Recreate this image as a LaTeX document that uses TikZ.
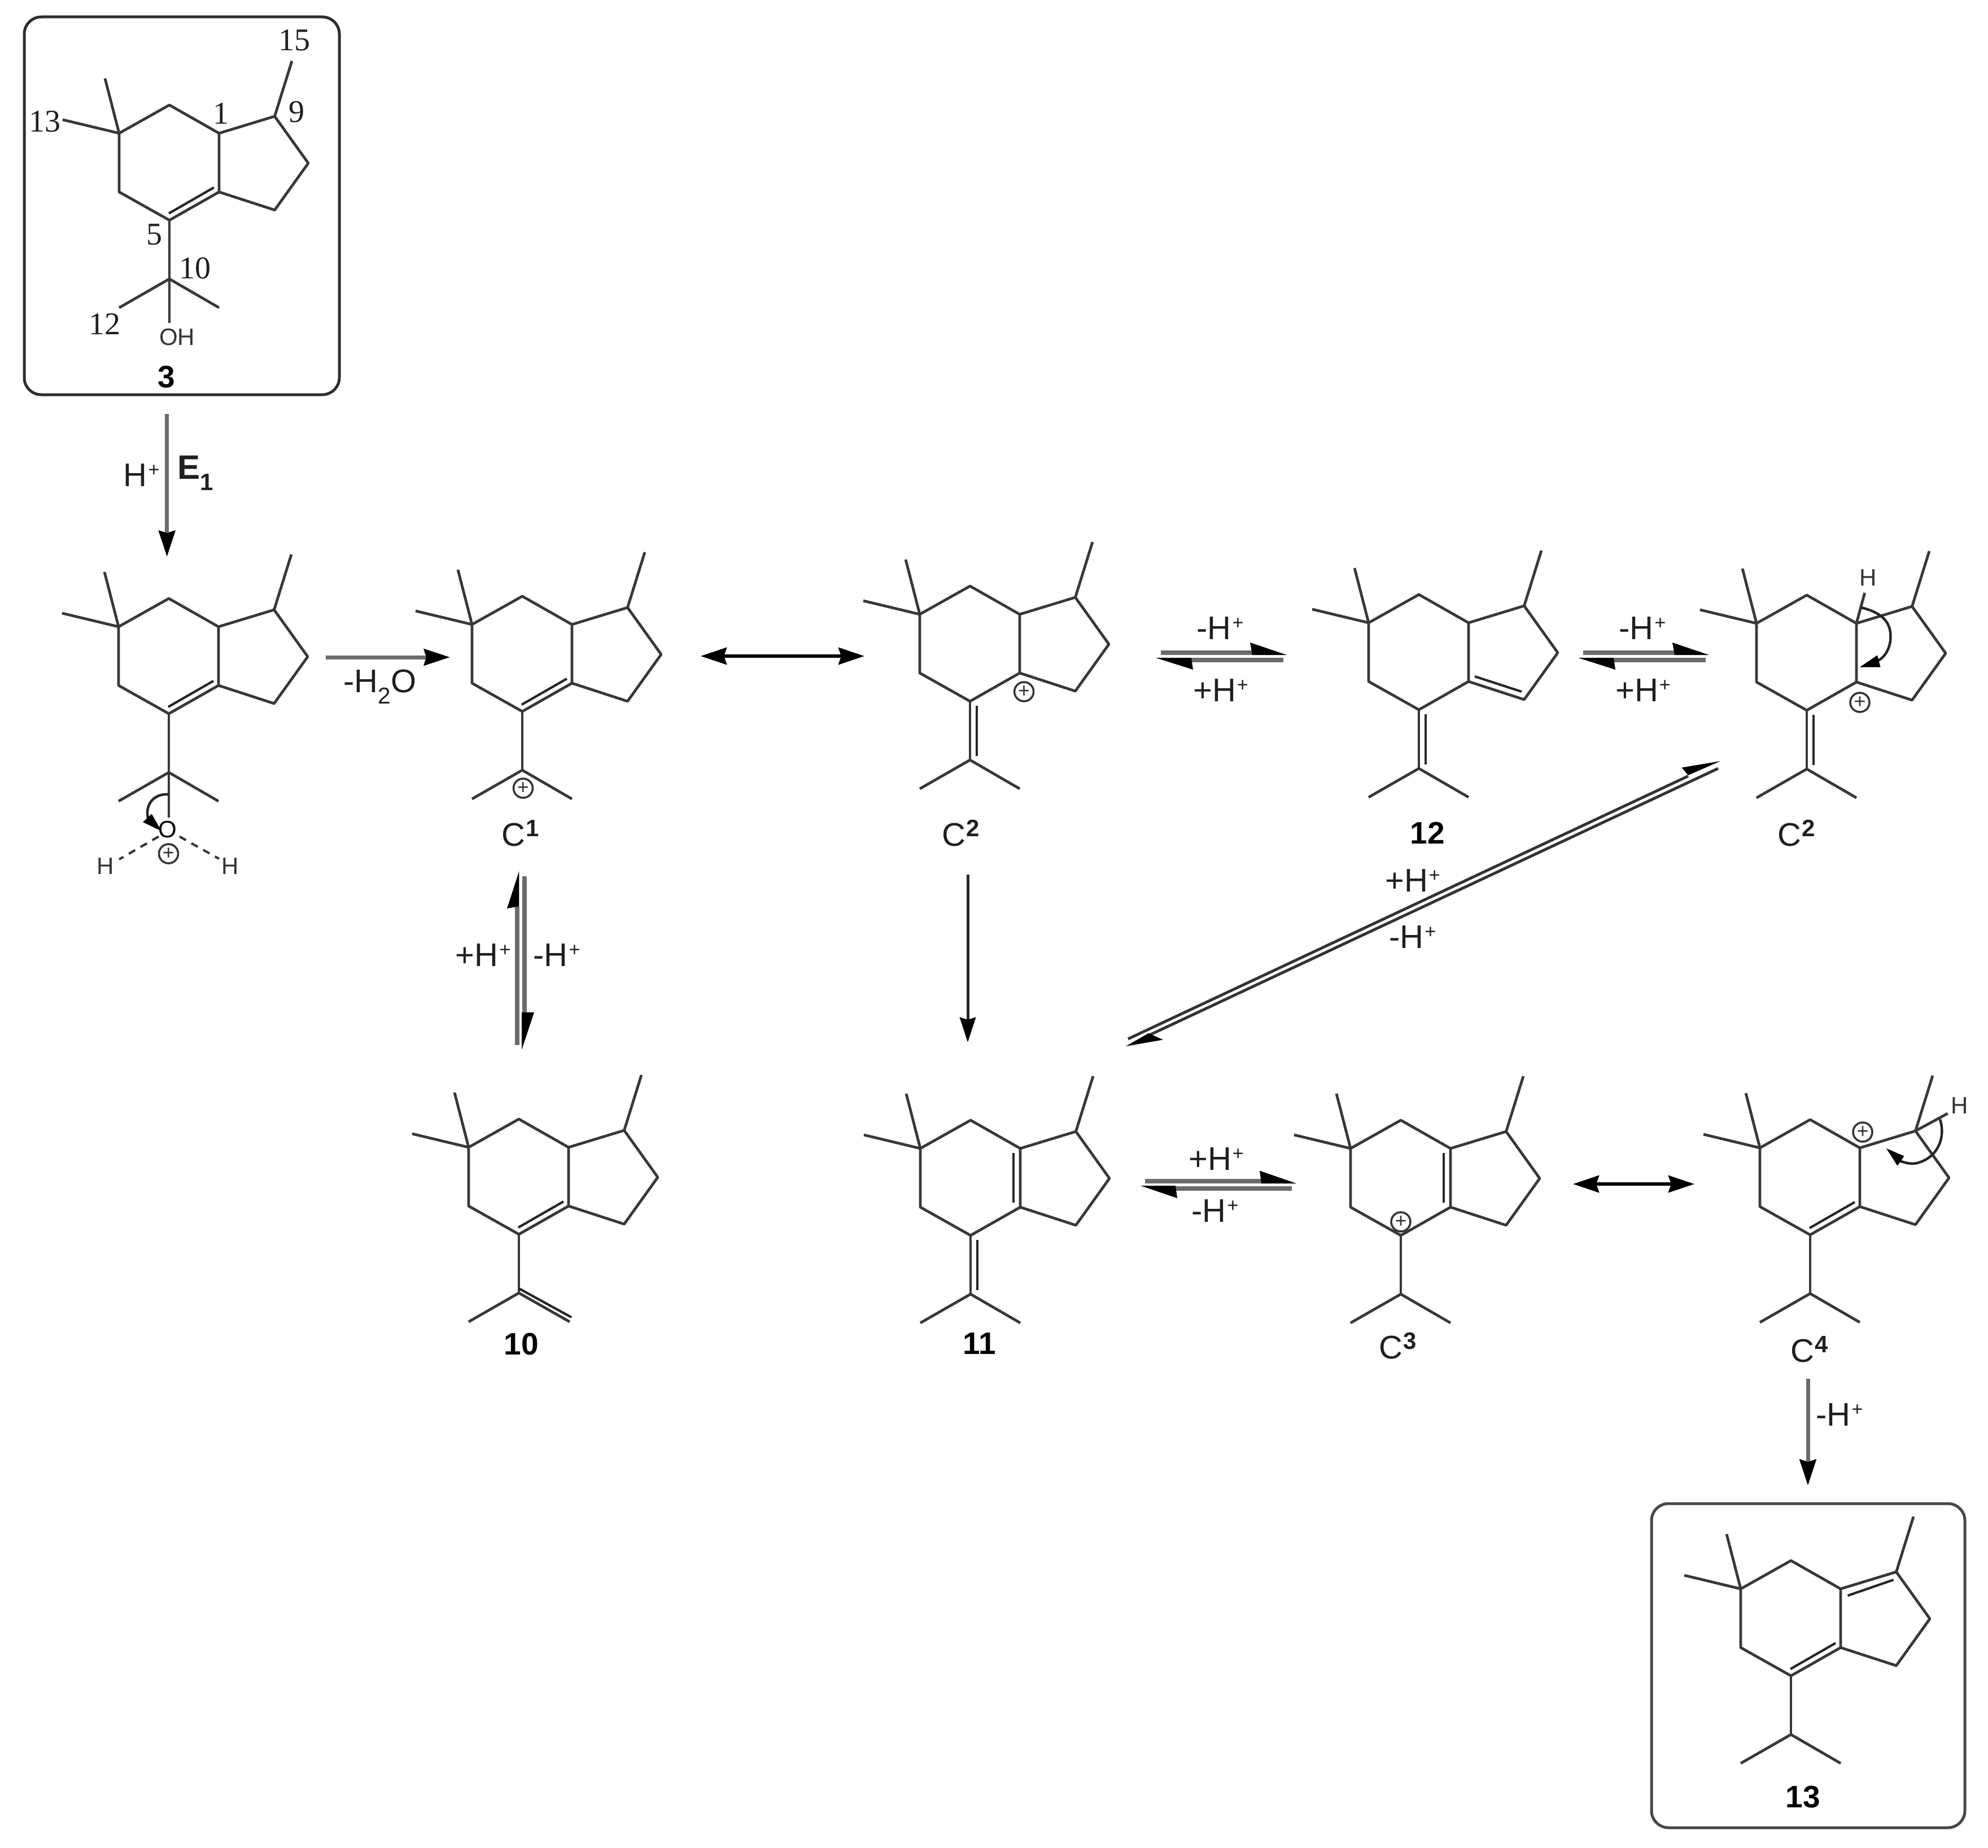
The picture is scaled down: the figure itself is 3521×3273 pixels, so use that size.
\documentclass[tikz,border=0pt]{standalone}
\usepackage{fontspec}
\setmainfont{Liberation Sans}
\newfontfamily\numfont{Liberation Serif}
\usetikzlibrary{arrows.meta,calc}
\newcommand{\fs}[1]{\fontsize{#1}{#1}\selectfont}
\newcommand{\Hp}{H\kern2pt\raisebox{18pt}{\fs{34}+}}
\newcommand{\Csup}[1]{C\kern1pt\raisebox{17pt}{\bfseries\fs{42}#1}}
\tikzset{
  bond/.style={line width=4.8pt,draw=black!78,line join=round},
  thin bond/.style={line width=4.2pt,draw=black!85},
  dashbond/.style={line width=4pt,draw=black!80,dash pattern=on 13pt off 11pt},
  frame/.style={line width=5pt,draw=black!72,rounded corners=30pt},
  rxn/.style={line width=7pt,draw=black!58,-{Stealth[length=46pt,width=29pt,inset=4pt,color=black]}},
  rxndark/.style={line width=5pt,draw=black!85,-{Stealth[length=44pt,width=28pt,inset=4pt,color=black]}},
  both/.style={line width=6pt,draw=black,{Stealth[length=46pt,width=30pt,inset=5pt]}-{Stealth[length=46pt,width=30pt,inset=5pt]}},
  eqline/.style={line width=8pt,draw=black!58},
  diagline/.style={line width=5pt,draw=black!80},
  head/.style={fill=black},
  curved/.style={line width=4.5pt,draw=black!85},
  txt/.style={inner sep=0pt,text=black!88,font=\fs{58}},
  num/.style={inner sep=0pt,text=black!88,font=\numfont\fs{56}},
  atom/.style={inner sep=0pt,text=black!80,font=\fs{42}},
  cmp/.style={inner sep=0pt,text=black,font=\bfseries\fs{55}},
  cat/.style={circle,draw=black!80,line width=3.5pt,minimum size=34pt,inner sep=0pt,font=\fs{36},text=black!80},
}
% ring skeleton: #1 prefix, #2 x, #3 y of the ring carbon C5
\newcommand{\skel}[3]{%
  \begin{scope}[shift={(#2,#3)}]
    \coordinate (#1p) at (0,0);
    \coordinate (#1g) at (-89,-154);
    \coordinate (#1t) at (0,-204);
    \coordinate (#1a) at (88,-154);
    \coordinate (#1b) at (88,-50);
    \coordinate (#1h) at (-89,-50);
    \coordinate (#1n) at (186.5,-184);
    \coordinate (#1r) at (246,-101);
    \coordinate (#1q) at (186.5,-18);
    \coordinate (#1m) at (217,-282);
    \coordinate (#1u) at (-114,-251);
    \coordinate (#1v) at (-189,-178);
    \coordinate (#1s) at (0,104);
    \coordinate (#1l) at (-89,155);
    \coordinate (#1k) at (88,155);
    % inner lines of the double bonds
    \coordinate (#1ri1) at (-1,-12);
    \coordinate (#1ri2) at (79,-58);
    \coordinate (#1xi1) at (12,8);
    \coordinate (#1xi2) at (12,97);
    \coordinate (#1fi1) at (76,-146);
    \coordinate (#1fi2) at (76,-58);
    \draw[bond] (#1p)--(#1h)--(#1g)--(#1t)--(#1a)--(#1b)--cycle;
    \draw[bond] (#1a)--(#1n)--(#1r)--(#1q)--(#1b);
    \draw[bond] (#1n)--(#1m);
    \draw[bond] (#1g)--(#1u);
    \draw[bond] (#1g)--(#1v);
  \end{scope}}
\newcommand{\side}[1]{\draw[bond] (#1p)--(#1s); \draw[bond] (#1l)--(#1s)--(#1k);}
\newcommand{\ringdb}[1]{\draw[thin bond] (#1ri1)--(#1ri2);}
\newcommand{\exodb}[1]{\draw[thin bond] (#1xi1)--(#1xi2);}
\newcommand{\fusedb}[1]{\draw[thin bond] (#1fi1)--(#1fi2);}
% half arrow: tail, point on line where head starts, tip, barb
\newcommand{\harp}[6][eqline]{%
  \draw[#1] (#2)--(#3);
  \fill[head] (#4)--(#5)--(#6)--cycle;}
\begin{document}
\begin{tikzpicture}[x=1pt,y=-1pt]
\fill[white,use as bounding box] (0,0) rectangle (3521,3273);

% ---------- frames
\draw[frame,draw=black!82] (43,30) rectangle (601,699);
\draw[frame] (2925,2663) rectangle (3480,3237);

% ---------- compound 3
\skel{A}{300}{390}
\ringdb{A}
\side{A}
\node[atom] (Aoh) at (313.5,597) {OH};
\draw[bond] (As) -- (300,572);
\node[num] (n15) at (521,71) {15};
\node[num] (n13) at (79,215) {13};
\node[num] (n1) at (391,201) {1};
\node[num] (n9) at (525,198) {9};
\node[num] (n5) at (273.5,415.5) {5};
\node[num] (n10) at (345,475) {10};
\node[num] (n12) at (185,574) {12};
\node[cmp] (c3) at (295,668) {3};

% ---------- protonated alcohol
\skel{B}{299}{1264}
\ringdb{B}
\side{B}
\node[atom,text=black] (Bo) at (297,1469) {O};
\coordinate (Bc) at (299,1448);
\draw[bond] (Bs)--(Bc);
\node[cat] (Bplus) at (298.5,1512) {+};
\node[atom] (Bh1) at (187,1534) {H};
\node[atom] (Bh2) at (408,1534) {H};
\coordinate (Bd1) at (281,1481.6);
\coordinate (Bd2) at (211,1522);
\coordinate (Bd3) at (318,1481.6);
\coordinate (Bd4) at (388,1521);
\draw[dashbond] (Bd1)--(Bd2);
\draw[dashbond] (Bd3)--(Bd4);
\coordinate (Bcs) at (299,1407);
\coordinate (Bce) at (262,1449);
\draw[curved] (Bcs) .. controls (272,1405) and (257,1425) .. (Bce);
\fill[head] (286,1472)--(253,1456)--(268.6,1441.6)--cycle;

% ---------- C1
\skel{C}{925}{1260}
\ringdb{C}
\side{C}
\node[cat] (Cplus) at (926.5,1396) {+};
\node[txt] (Cl) at (922,1476) {\Csup{1}};

% ---------- C2
\skel{D}{1718}{1242}
\exodb{D}
\side{D}
\node[cat] (Dplus) at (1813.6,1225) {+};
\node[txt] (Dl) at (1702,1476) {\Csup{2}};

% ---------- 12
\skel{E}{2513}{1257}
\exodb{E}
\side{E}
\coordinate (Ei1) at ($(Ep)+(99,-59)$);
\coordinate (Ei2) at ($(Ep)+(182,-32)$);
\draw[thin bond] (Ei1)--(Ei2);
\node[cmp] (El) at (2528,1475) {12};

% ---------- C2 (second)
\skel{F}{3200}{1258}
\exodb{F}
\side{F}
\node[cat] (Fplus) at (3294,1244) {+};
\node[atom] (Fh) at (3309,1023) {H};
\coordinate (Fd) at (3302.6,1050);
\draw[bond] (Fa) -- (Fd);
\draw[curved] (3296,1076) .. controls (3330,1084) and (3352,1100) .. (3348,1135) .. controls (3345,1155) and (3335,1167) .. (3322,1172);
\fill[head] (3294,1181.5)--(3325,1160.5)--(3330.5,1181.5)--cycle;
\node[txt] (Fl) at (3182,1476) {\Csup{2}};

% ---------- 10
\skel{G}{919}{2186}
\ringdb{G}
\draw[bond] (Gp)--(Gs);
\draw[bond] (Gl)--(Gs);
\coordinate (Gd1) at ($(Gp)+(90,155)$);
\coordinate (Gd2) at ($(Gp)+(0,96)$);
\coordinate (Gd3) at ($(Gp)+(93,147)$);
\draw[bond] (Gs)--(Gd1);
\draw[thin bond] (Gd2)--(Gd3);
\node[cmp] (Gn) at (923.5,2381) {10};

% ---------- 11
\skel{H}{1719}{2188}
\exodb{H}
\fusedb{H}
\side{H}
\node[cmp] (Hn) at (1735,2380) {11};

% ---------- C3
\skel{I}{2481}{2188}
\fusedb{I}
\side{I}
\node[cat] (Iplus) at (2481,2164) {+};
\node[txt] (Il) at (2475.5,2384) {\Csup{3}};

% ---------- C4
\skel{J}{3206}{2187}
\ringdb{J}
\side{J}
\node[cat] (Jplus) at (3299,2005) {+};
\node[atom] (Jh) at (3471,1958) {H};
\coordinate (Jd) at (3449.6,1972);
\draw[bond] (Jn) -- (Jd);
\draw[curved] (3436,1982.5) .. controls (3446,2012) and (3434,2050) .. (3395,2060) .. controls (3385,2062) and (3375,2060) .. (3365,2056);
\fill[head] (3341,2034)--(3372.5,2047.5)--(3360.6,2064.7)--cycle;
\node[txt] (Jl) at (3204.5,2390) {\Csup{4}};

% ---------- 13
\skel{K}{3172}{2968}
\ringdb{K}
\side{K}
\coordinate (Ki1) at (3272.5,2826);
\coordinate (Ki2) at (3353.5,2798);
\draw[thin bond] (Ki1)--(Ki2);
\node[cmp] (Kn) at (3193,3183) {13};

% ---------- arrows
\coordinate (a1s) at (295.7,733);
\coordinate (a1e) at (295.7,986);
\draw[rxn] (a1s)--(a1e);
\node[txt] (a1l) at (250.7,842) {\Hp};
\node[txt,font=\bfseries\fs{60}] (a1r) at (346.7,838) {E\textsubscript{1}};

\coordinate (a2s) at (577,1164);
\coordinate (a2e) at (797,1164);
\draw[rxn] (a2s)--(a2e);
\node[txt] (a2l) at (673,1216) {-H\textsubscript{2}O};

\coordinate (a3s) at (1241,1162);
\coordinate (a3e) at (1531,1162);
\draw[both] (a3s)--(a3e);

\coordinate (a4s) at (1714,1549);
\coordinate (a4e) at (1714,1846);
\draw[rxndark] (a4s)--(a4e);

\coordinate (a5s) at (2786,2097);
\coordinate (a5e) at (3001,2097);
\draw[both] (a5s)--(a5e);

\coordinate (a6s) at (3202,2442);
\coordinate (a6e) at (3202,2631);
\draw[rxn] (a6s)--(a6e);
\node[txt] (a6l) at (3258,2506) {-\Hp};

% equilibrium D-12
\harp{2056,1156}{2218,1156}{2279,1160}{2214,1138}{2218,1160}
\harp{2273,1169}{2110,1169}{2047,1165}{2113,1186}{2110,1165}
\node[txt] (e1u) at (2161,1113) {-\Hp};
\node[txt] (e1d) at (2162,1223) {+\Hp};
% equilibrium 12-F
\harp{2804,1156}{2966,1156}{3027,1160}{2962,1138}{2966,1160}
\harp{3021,1169}{2858,1169}{2795,1165}{2861,1186}{2858,1165}
\node[txt] (e2u) at (2909,1113) {-\Hp};
\node[txt] (e2d) at (2910,1223) {+\Hp};
% equilibrium 11-I
\harp{2028,2091.5}{2234,2091.5}{2296,2096}{2231,2073.5}{2234,2096}
\harp{2288,2105}{2082,2105}{2020,2100}{2085,2122}{2082,2100}
\node[txt] (e3u) at (2154,2053) {+\Hp};
\node[txt] (e3d) at (2152,2145) {-\Hp};
% vertical equilibrium
\harp{915.5,1851}{915.5,1605}{919.4,1543}{898,1609}{919.4,1605}
\harp{928.5,1552}{928.5,1793}{924,1859}{946,1793}{924,1793}
\node[txt] (e4u) at (855.6,1692) {+\Hp};
\node[txt] (e4d) at (986,1692) {-\Hp};
% diagonal equilibrium
\harp[diagline]{1998,1840}{2990,1374.5}{3047,1348}{2978.5,1359.5}{2990,1373}
\harp[diagline]{3043,1361}{2034,1834}{1994,1853}{2060,1841.5}{2034,1830}
\node[txt] (e5u) at (2502,1560) {+\Hp};
\node[txt] (e5d) at (2502,1660) {-\Hp};
\end{tikzpicture}
\end{document}
